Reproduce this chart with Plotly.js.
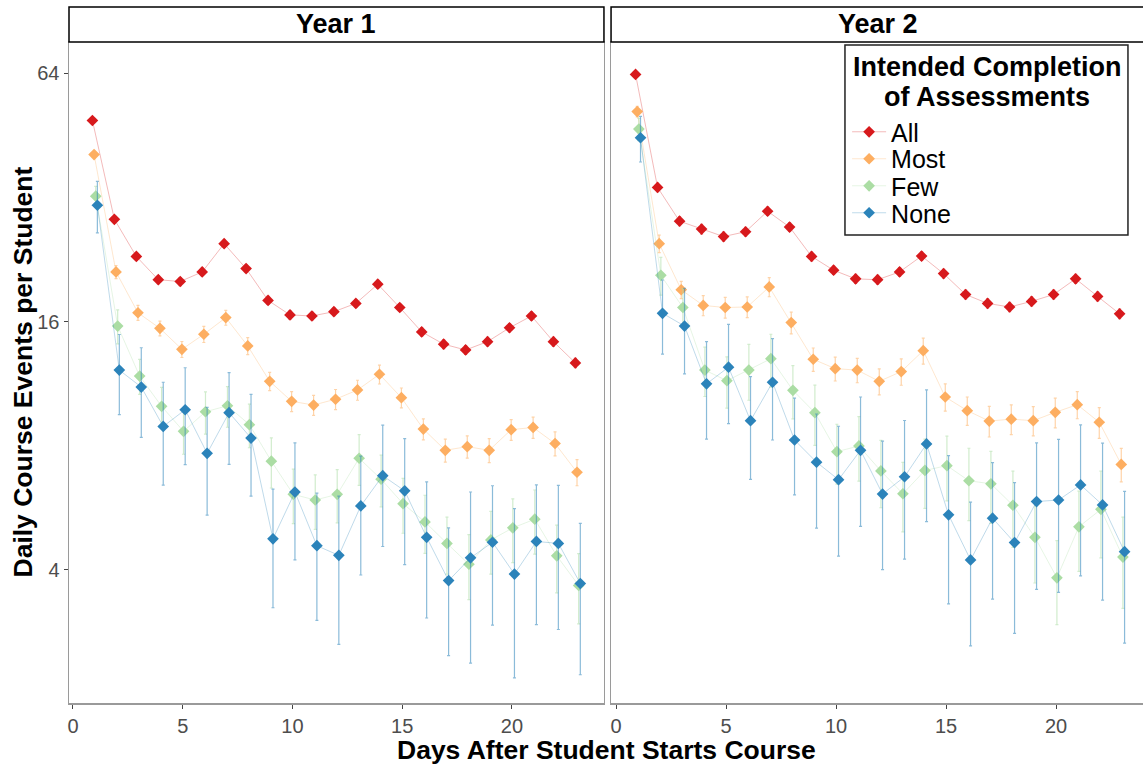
<!DOCTYPE html>
<html>
<head>
<meta charset="utf-8">
<script src="https://cdn.plot.ly/plotly-3.0.1.min.js"></script>
<style>html,body{margin:0;padding:0;background:#fff;}</style>
</head>
<body>
<div id="chart" style="width:1143px;height:765px;"></div>
<script>
const days = [1,2,3,4,5,6,7,8,9,10,11,12,13,14,15,16,17,18,19,20,21,22,23];
const groups = ['All','Most','Few','None'];
const tickDays = [0,5,10,15,20];
const tickVals = [4,16,64];
const tickText = ['4','16','64'];

// Year 1
const y1_all = [49.1,28.3,23.0,20.2,20.0,21.1,24.7,21.5,18.0,16.6,16.5,16.9,17.7,19.7,17.3,15.1,14.1,13.65,14.3,15.45,16.5,14.3,12.7];
const y1_all_err = [0.9,0.6,0.5,0.45,0.45,0.45,0.5,0.45,0.4,0.38,0.36,0.37,0.38,0.42,0.38,0.36,0.34,0.33,0.34,0.36,0.38,0.35,0.33];
const y1_most = [40.6,21.1,16.8,15.4,13.7,14.9,16.35,13.96,11.46,10.25,10.04,10.37,10.92,11.92,10.46,8.78,7.80,7.96,7.80,8.75,8.86,8.10,6.90];
const y1_most_err = [0.68,0.77,0.70,0.64,0.61,0.67,0.68,0.66,0.58,0.57,0.56,0.58,0.61,0.63,0.58,0.51,0.50,0.49,0.52,0.51,0.52,0.54,0.50];
const y1_few = [32.2,15.6,11.8,9.97,8.67,9.67,10.0,9.0,7.34,6.10,5.91,6.10,7.46,6.64,5.79,5.23,4.64,4.13,4.73,5.06,5.31,4.33,3.67];
const y1_few_err = [1.80,1.48,1.15,1.11,1.04,1.13,1.13,1.09,1.02,0.92,0.89,0.90,1.05,0.95,0.88,0.84,0.73,0.74,0.82,0.89,0.94,0.81,0.71];
const y1_none = [30.6,12.2,11.1,8.91,9.78,7.67,9.62,8.35,4.76,6.18,4.58,4.34,5.72,6.77,6.22,4.80,3.77,4.28,4.67,3.91,4.69,4.64,3.71];
const y1_none_err = [4.38,2.68,2.72,2.49,2.58,2.24,2.41,2.31,1.52,1.95,1.56,1.70,1.83,2.21,2.10,1.74,1.29,1.90,1.73,1.72,1.74,1.77,1.48];

// Year 2
const y2_all = [63.5,33.8,28.0,26.8,25.7,26.4,29.6,27.1,23.0,21.3,20.3,20.2,21.1,23.05,20.9,18.6,17.7,17.35,17.9,18.6,20.3,18.4,16.7];
const y2_all_err = [1.0,0.8,0.7,0.7,0.65,0.65,0.7,0.65,0.55,0.5,0.5,0.5,0.5,0.55,0.5,0.45,0.45,0.45,0.45,0.45,0.5,0.45,0.45];
const y2_most = [51.6,24.7,19.1,17.5,17.3,17.35,19.4,15.9,12.96,12.3,12.2,11.46,12.1,13.6,10.5,9.73,9.18,9.28,9.20,9.64,10.06,9.12,7.21];
const y2_most_err = [1.5,1.2,0.92,0.98,1.0,1.0,1.03,0.96,0.84,0.82,0.83,0.83,0.89,0.98,0.80,0.77,0.78,0.77,0.75,0.80,0.76,0.78,0.67];
const y2_few = [46.8,20.7,17.3,12.2,11.5,12.2,13.0,10.9,9.62,7.74,7.99,6.95,6.12,6.97,7.16,6.58,6.47,5.74,4.80,3.83,5.09,5.61,4.30];
const y2_few_err = [2.9,2.17,1.89,1.67,1.63,1.89,1.90,1.61,1.60,1.28,1.42,1.29,1.17,1.33,1.28,1.31,1.28,1.20,1.08,0.88,1.12,1.33,1.07];
const y2_none = [44.6,16.75,15.6,11.3,12.4,9.20,11.4,8.26,7.30,6.62,7.80,6.11,6.73,8.08,5.44,4.23,5.34,4.66,5.86,5.91,6.43,5.75,4.43];
const y2_none_err = [5.65,3.42,3.66,3.0,3.35,2.57,3.14,2.18,2.25,2.30,2.70,2.10,2.48,2.84,2.13,1.61,1.94,1.85,2.27,2.38,2.56,2.37,1.77];

const colors = ['215,25,28','253,174,97','171,221,164','43,131,186'];
const dodge = [-0.1125,-0.0375,0.0375,0.1125];
const legendIds = ['legend','legend2','legend3','legend4'];
const legendY = [0.8638,0.8230,0.7821,0.7413];

const year1 = [[y1_all,y1_all_err],[y1_most,y1_most_err],[y1_few,y1_few_err],[y1_none,y1_none_err]];
const year2 = [[y2_all,y2_all_err],[y2_most,y2_most_err],[y2_few,y2_few_err],[y2_none,y2_none_err]];

const traces = [];
function addYear(data, xa, ya, showLeg){
  data.forEach((d,i)=>{
    traces.push({
      type:'scatter', mode:'lines+markers',
      x: days.map(v=>v+dodge[i]), y: d[0],
      xaxis: xa, yaxis: ya,
      name: groups[i], showlegend: showLeg, legend: legendIds[i],
      line:{color:'rgba('+colors[i]+',0.3)', width:1},
      marker:{symbol:'diamond', size:9, color:'rgb('+colors[i]+')', line:{width:0}},
      error_y:{type:'data', array:d[1], visible:true, color:'rgba('+colors[i]+',0.55)', thickness:1.2, width:1.5}
    });
  });
}
addYear(year1,'x','y',true);
addYear(year2,'x2','y2',false);

const FONT = 'Liberation Sans, Arial, sans-serif';
const axisFont = {family:FONT, size:20, color:'#4d4d4d'};
const xBase = {tickvals:tickDays, ticks:'outside', ticklen:4, tickcolor:'#444', showline:true, linecolor:'#9a9a9a', linewidth:1.5, mirror:true, showgrid:false, zeroline:false, tickfont:axisFont};
const yRange = [0.2798,1.8813];

const layout = {
  width:1143, height:765,
  margin:{l:69,r:0,t:42,b:62},
  paper_bgcolor:'white', plot_bgcolor:'white',
  font:{family:FONT, color:'#000'},
  xaxis:Object.assign({domain:[0,0.4981], range:[-0.18,24.19], anchor:'y'}, xBase),
  xaxis2:Object.assign({domain:[0.5047,1], range:[-0.227,23.95], anchor:'y2'}, xBase),
  yaxis:{type:'log', range:yRange, tickvals:tickVals, ticktext:tickText, ticks:'outside', ticklen:4, tickcolor:'#444', showline:true, linecolor:'#9a9a9a', linewidth:1.5, mirror:true, showgrid:false, zeroline:false, tickfont:axisFont, anchor:'x'},
  yaxis2:{type:'log', range:yRange, tickvals:tickVals, showticklabels:false, ticks:'', showline:true, linecolor:'#9a9a9a', linewidth:1.5, mirror:true, showgrid:false, zeroline:false, anchor:'x2'},
  shapes:[
    {type:'rect', xref:'paper', yref:'paper', x0:0, x1:0.4981, y0:1.0, y1:1.053, fillcolor:'white', line:{color:'#000', width:1.5}},
    {type:'rect', xref:'paper', yref:'paper', x0:0.5047, x1:1.01, y0:1.0, y1:1.053, fillcolor:'white', line:{color:'#000', width:1.5}},
    {type:'rect', xref:'paper', yref:'paper', x0:0.7225, x1:0.9860, y0:0.708, y1:0.9955, fillcolor:'rgba(0,0,0,0)', line:{color:'#222', width:1.5}, layer:'above'}
  ],
  annotations:[
    {xref:'paper', yref:'paper', x:0.249, y:(703-24)/661, text:'<b>Year 1</b>', showarrow:false, font:{size:27, color:'#000'}, xanchor:'center', yanchor:'middle'},
    {xref:'paper', yref:'paper', x:0.753, y:(703-24)/661, text:'<b>Year 2</b>', showarrow:false, font:{size:27, color:'#000'}, xanchor:'center', yanchor:'middle'},
    {xref:'paper', yref:'paper', x:0.5, y:(703-750)/661, text:'<b>Days After Student Starts Course</b>', showarrow:false, font:{size:26.5, color:'#000'}, xanchor:'center', yanchor:'middle'},
    {xref:'paper', yref:'paper', x:(22-69)/1074, y:0.5, text:'<b>Daily Course Events per Student</b>', showarrow:false, textangle:-90, font:{size:26.5, color:'#000'}, xanchor:'center', yanchor:'middle'},
    {xref:'paper', yref:'paper', x:0.8543, y:(703-67)/661, text:'<b>Intended Completion</b>', showarrow:false, font:{size:27, color:'#000'}, xanchor:'center', yanchor:'middle'},
    {xref:'paper', yref:'paper', x:0.8543, y:(703-97)/661, text:'<b>of Assessments</b>', showarrow:false, font:{size:27, color:'#000'}, xanchor:'center', yanchor:'middle'}
  ]
};
legendIds.forEach((id,i)=>{
  layout[id] = {x:0.7245, y:legendY[i], xanchor:'left', yanchor:'middle', bgcolor:'rgba(0,0,0,0)', borderwidth:0, itemwidth:34, font:{family:FONT, size:25, color:'#000'}};
});

Plotly.newPlot('chart', traces, layout, {displayModeBar:false, staticPlot:true});
</script>
</body>
</html>
